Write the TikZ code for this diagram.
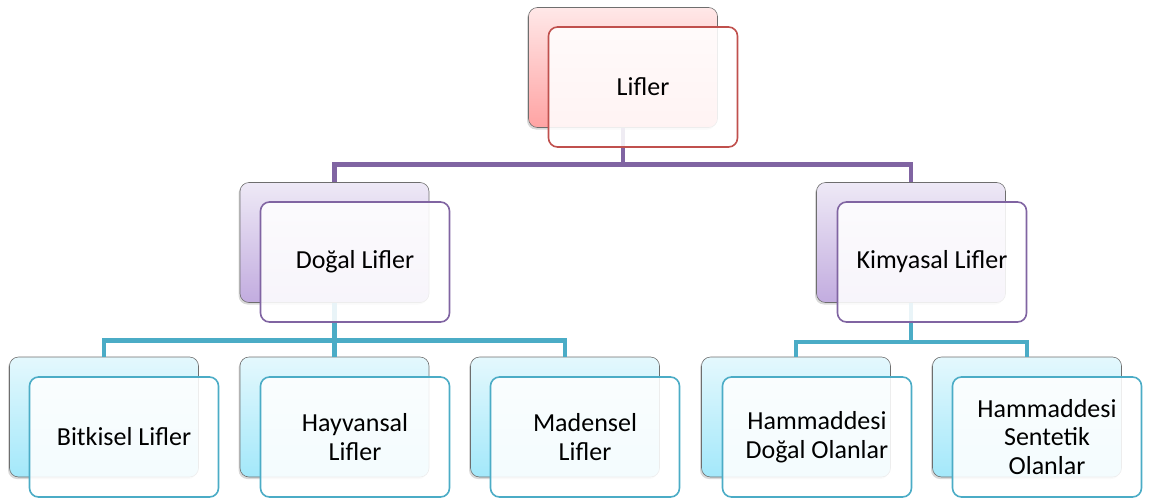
\documentclass[tikz,border=0pt]{standalone}
\usepackage{fontspec}
\setmainfont{Carlito}
\usetikzlibrary{shadows}
\definecolor{redln}{HTML}{C0504D}
\definecolor{purln}{HTML}{8064A2}
\definecolor{tealln}{HTML}{4BACC6}
\definecolor{redtop}{HTML}{FFE8E8}
\definecolor{redbot}{HTML}{FFA3A3}
\definecolor{purtop}{HTML}{EEE9F6}
\definecolor{purbot}{HTML}{C2ACDF}
\definecolor{tealtop}{HTML}{E4F8FD}
\definecolor{tealbot}{HTML}{A3E8FA}
\definecolor{backedge}{HTML}{6E6E6E}
\begin{document}
\begin{tikzpicture}[x=1pt,y=-1pt,
  back/.style={rectangle, rounded corners=9pt, minimum width=189pt, minimum height=120pt,
    draw=backedge, line width=0.6pt, inner sep=0pt,
    drop shadow={shadow xshift=-1.5pt, shadow yshift=-2pt, opacity=0.3}},
  redback/.style={back, top color=redtop, bottom color=redbot},
  purback/.style={back, top color=purtop, bottom color=purbot},
  tealback/.style={back, top color=tealtop, bottom color=tealbot},
  front/.style={rectangle, rounded corners=9pt, minimum width=189pt, minimum height=120pt,
    fill=white, fill opacity=0.88, text opacity=1, line width=1.6pt, align=center,
    inner sep=0pt, font=\fontsize{26}{28.5}\selectfont},
  redfront/.style={front, draw=redln},
  purfront/.style={front, draw=purln},
  tealfront/.style={front, draw=tealln},
  purconn/.style={draw=purln, line width=4.5pt},
  tealconn/.style={draw=tealln, line width=4.5pt}]
\useasboundingbox (0,0) rectangle (1156,498);
% back boxes
\node[redback] (tb) at (623,67.5) {};
\node[purback] (db) at (334.5,242.5) {};
\node[purback] (kb) at (911,242.5) {};
\node[tealback] (bb) at (104,417) {};
\node[tealback] (hb) at (334.5,417) {};
\node[tealback] (mb) at (565,417) {};
\node[tealback] (hdb) at (796,417) {};
\node[tealback] (hsb) at (1027,417) {};
% connectors
\coordinate (j1) at (623,164.5);
\coordinate (j2) at (334.5,340.5);
\coordinate (j3) at (911,342);
\draw[purconn] (tb.south) -- (j1) -| (db.north);
\draw[purconn] (j1) -| (kb.north);
\draw[tealconn] (db.south) -- (j2) -| (bb.north);
\draw[tealconn] (j2) -- (hb.north);
\draw[tealconn] (j2) -| (mb.north);
\draw[tealconn] (kb.south) -- (j3) -| (hdb.north);
\draw[tealconn] (j3) -| (hsb.north);
% front boxes
\node[redfront] (tf) at (643,87) {Lifler};
\node[purfront] (df) at (355,262) {Doğal Lifler};
\node[purfront] (kf) at (932,262) {Kimyasal Lifler};
\node[tealfront] (bf) at (124,437) {Bitkisel Lifler};
\node[tealfront] (hf) at (355,437) {Hayvansal\\Lifler};
\node[tealfront] (mf) at (585,437) {Madensel\\Lifler};
\node[tealfront] (hdf) at (817,437) {Hammaddesi\\Doğal Olanlar};
\node[tealfront] (hsf) at (1047,437) {Hammaddesi\\Sentetik\\Olanlar};
\end{tikzpicture}
\end{document}
